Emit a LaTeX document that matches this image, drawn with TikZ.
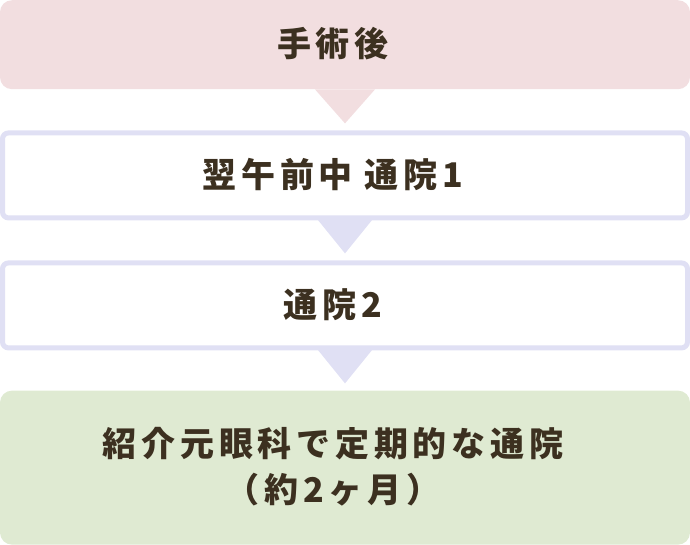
\documentclass[tikz,border=0pt]{standalone}
\usepackage{fontspec}
\usepackage{tikz}
\usetikzlibrary{positioning,calc}
\newfontfamily\jpfont{Noto Sans CJK JP}[LetterSpace=14]
\definecolor{pinkfill}{RGB}{242,222,224}
\definecolor{lavline}{RGB}{224,224,244}
\definecolor{greenfill}{RGB}{223,234,210}
\definecolor{textbrown}{RGB}{60,48,32}

\begin{document}
\begin{tikzpicture}[x=1pt, y=1pt, node distance=40pt,
font=\jpfont\bfseries\fontsize{34}{46}\selectfont\color{textbrown},
stage/.style={rectangle, rounded corners=12pt, minimum width=690pt, inner sep=0pt},
visit/.style={rectangle, draw=lavline, line width=5pt, rounded corners=6pt, fill=white, minimum width=685pt, minimum height=85pt, inner sep=0pt},
caption/.style={label={[xshift=-12pt, yshift=1pt, align=center]center:#1}}]

\useasboundingbox (0,0) rectangle (690,-544);

% Nodes
\node[stage, fill=pinkfill, minimum height=89pt, anchor=north, caption={手術後}] (surgery) at (345,0) {};
\node[visit, below=41pt of surgery, caption={翌午前中\hspace{12pt}通院1}] (visitone) {};
\node[visit, below=of visitone, caption={通院2}] (visittwo) {};
\node[stage, fill=greenfill, minimum height=154pt, below=of visittwo, caption={紹介元眼科で定期的な通院\\（約2ヶ月）}] (referral) {};

% Pointers
\fill[pinkfill] ([xshift=-30pt]surgery.south) -- ([xshift=30pt]surgery.south) -- ([yshift=-34pt]surgery.south) -- cycle;
\fill[lavline] ([xshift=-30pt,yshift=4pt]visitone.south) -- ([xshift=30pt,yshift=4pt]visitone.south) -- ([yshift=-33pt]visitone.south) -- cycle;
\fill[lavline] ([xshift=-30pt,yshift=4pt]visittwo.south) -- ([xshift=30pt,yshift=4pt]visittwo.south) -- ([yshift=-33pt]visittwo.south) -- cycle;
\end{tikzpicture}
\end{document}
